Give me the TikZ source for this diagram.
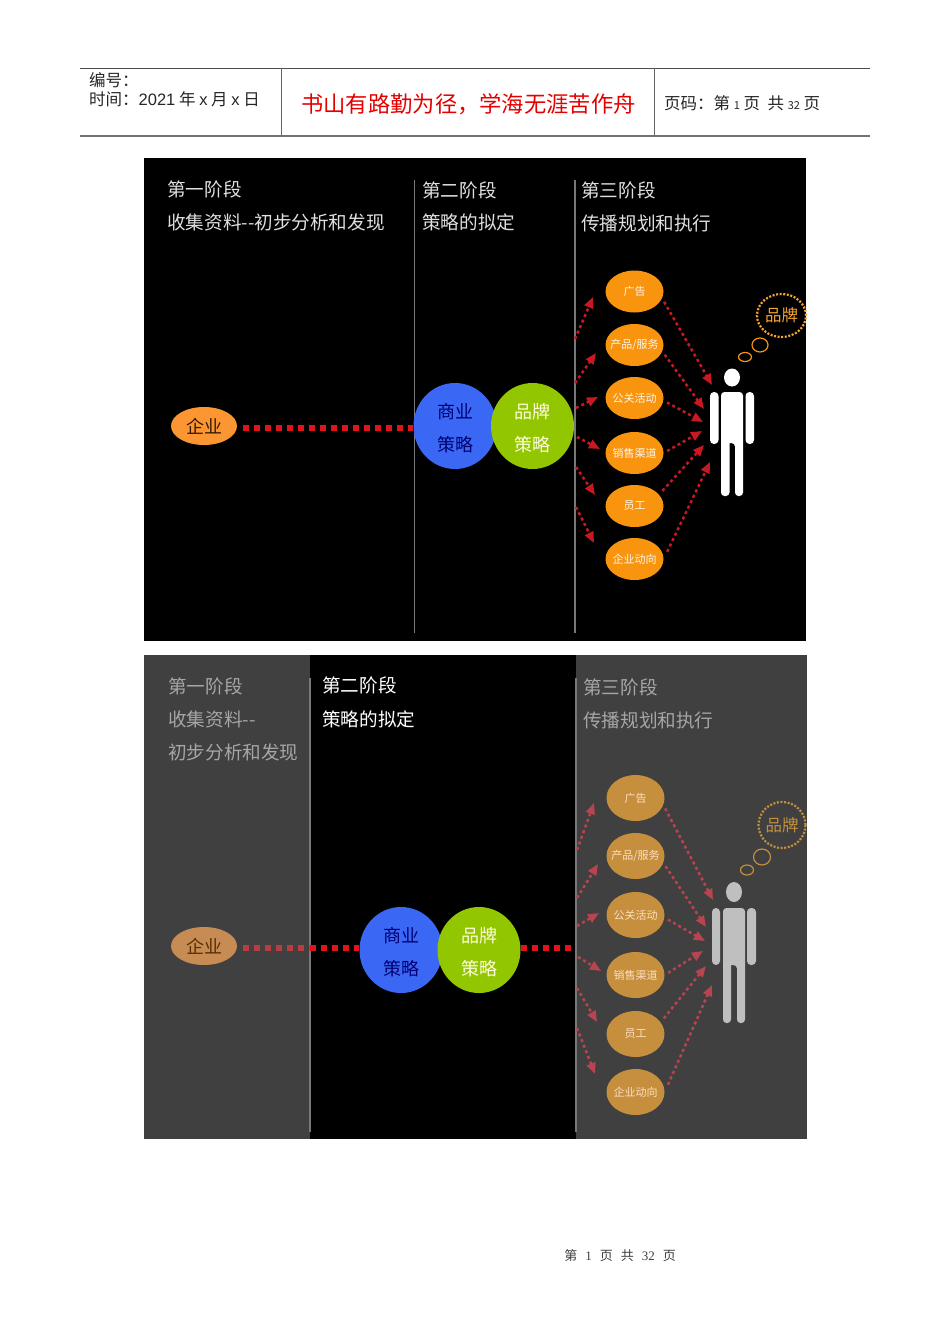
\documentclass[tikz,border=0pt]{standalone}
\usepackage{fontspec}
\setmainfont{Noto Sans CJK SC}
\newfontfamily\digitfont{Liberation Serif}
\newfontfamily\headfont{Liberation Sans}
\usepackage{xcolor}
\usetikzlibrary{shapes.geometric, arrows.meta, positioning, calc}
\definecolor{panelgrey}{RGB}{64, 64, 64}
\definecolor{rulegrey}{RGB}{120, 120, 120}
\definecolor{brightorange}{RGB}{248, 148, 14}
\definecolor{dimorange}{RGB}{197, 143, 62}
\definecolor{firmorange}{RGB}{252, 150, 50}
\definecolor{firmdim}{RGB}{198, 140, 84}
\definecolor{bizblue}{RGB}{58, 104, 245}
\definecolor{brandgreen}{RGB}{146, 198, 0}
\definecolor{dotred}{RGB}{225, 20, 25}
\definecolor{dotdim}{RGB}{184, 60, 64}
\definecolor{arrowred}{RGB}{200, 24, 34}
\definecolor{arrowdim}{RGB}{184, 68, 80}
\newcommand{\lowered}[1]{\raisebox{-2.5pt}[\height][\depth]{#1}}

\begin{document}
\begin{tikzpicture}[x=1pt, y=-1pt,
        hdrtext/.style={anchor=west, inner sep=0pt, font=\fontsize{16.5}{18}\selectfont, text=black!85},
        stagetext/.style={anchor=west, inner sep=0pt, font=\fontsize{18.6}{22}\selectfont, text=black!12},
        stagedim/.style={stagetext, text=black!35},
        channel/.style={ellipse, fill=brightorange, minimum width=58pt, minimum height=42pt, inner xsep=-6pt, inner ysep=0pt, text=white!92!orange, font=\fontsize{11}{13}\selectfont},
        channeldim/.style={channel, fill=dimorange, minimum height=46pt, text=white!75!orange},
        firm/.style={ellipse, fill=firmorange, minimum width=66pt, minimum height=38pt, inner sep=0pt, text=black!80!orange, font=\fontsize{18}{22}\selectfont},
        roundel/.style={ellipse, minimum width=83pt, minimum height=86pt, inner sep=0pt, align=center, font=\fontsize{18}{33}\selectfont},
        thought/.style={ellipse, draw, dash pattern=on 2pt off 1.6pt, line width=2.2pt, inner xsep=-3pt, inner ysep=0pt, font=\fontsize{16.5}{20}\selectfont},
        puff/.style={ellipse, draw, line width=1.2pt, inner sep=0pt},
        stagerule/.style={line width=1.6pt, color=rulegrey},
        dotline/.style={line width=5.5pt, color=dotred, dash pattern=on 6pt off 5pt},
        dotarrow/.style={-{Triangle[length=11pt, width=9pt]}, line width=2.5pt, color=arrowred, dash pattern=on 3pt off 3pt},
        dotarrowdim/.style={dotarrow, color=arrowdim}
    ]
    \useasboundingbox (0,0) rectangle (950,1344);
    \fill[white] (0,0) rectangle (950,1344);

    % page header
    \draw[line width=1pt, black!70] (80,68) -- (870,68);
    \draw[line width=1.2pt, black!55] (80,136) -- (870,136);
    \draw[line width=1pt, black!60] (281,68) -- (281,136);
    \draw[line width=1pt, black!60] (654,68) -- (654,136);
    \node[hdrtext] (hdrcode) at (89,80) {编号：};
    \node[hdrtext] (hdrdate) at (89,99) {时间：{\headfont 2021} 年 {\headfont x} 月 {\headfont x} 日};
    \node[anchor=west, inner sep=0pt, text=red!90!black, font=\fontsize{22.3}{26}\selectfont] (hdrmotto) at (301,104) {书山有路勤为径，学海无涯苦作舟};
    \node[hdrtext] (hdrpage) at (664,103) {页码：第 {\fontsize{11}{13}\selectfont 1} 页 \ 共 {\fontsize{11}{13}\selectfont 32} 页};

    % upper panel
    \fill[black] (144,158) rectangle (806,641);
    \draw[stagerule] (414.5,180) -- (414.5,633);
    \draw[stagerule] (575,180) -- (575,633);
    \node[stagetext] (a1) at (167,189) {第一阶段};
    \node[stagetext] (a2) at (167,222) {收集资料-{}-初步分析和发现};
    \node[stagetext] (a3) at (422,190) {第二阶段};
    \node[stagetext] (a4) at (422,222) {策略的拟定};
    \node[stagetext] (a5) at (581,190) {第三阶段};
    \node[stagetext] (a6) at (581,223) {传播规划和执行};

    \node[firm] (firm) at (204,426) {企业};
    \node[roundel, fill=bizblue, text=blue!45!black] (biz) at (455,426) {\lowered{商业}\\\lowered{策略}};
    \node[roundel, fill=brandgreen, text=yellow!15!white] (brand) at (532.5,426) {\lowered{品牌}\\\lowered{策略}};
    \draw[dotline, shorten <=6pt] ([yshift=-2pt]firm.east) -- ([yshift=-2pt]biz.west);

    \node[channel] (c1) at (634.5,291.5) {广告};
    \node[channel] (c2) at (634.5,345) {产品/服务};
    \node[channel] (c3) at (634.5,398) {公关活动};
    \node[channel] (c4) at (634.5,453) {销售渠道};
    \node[channel] (c5) at (634.5,506) {员工};
    \node[channel] (c6) at (634.5,559) {企业动向};

    \coordinate (l1) at (575,339);
    \coordinate (l2) at (575,383);
    \coordinate (l3) at (576,408);
    \coordinate (l4) at (577,437);
    \coordinate (l5) at (576,467);
    \coordinate (l6) at (576,507);
    \coordinate (m1) at (593,297);
    \coordinate (m2) at (596,353);
    \coordinate (m3) at (598,397);
    \coordinate (m4) at (600,449);
    \coordinate (m5) at (595,495);
    \coordinate (m6) at (594,543);
    \draw[dotarrow] (l1) -- (m1);
    \draw[dotarrow] (l2) -- (m2);
    \draw[dotarrow] (l3) -- (m3);
    \draw[dotarrow] (l4) -- (m4);
    \draw[dotarrow] (l5) -- (m5);
    \draw[dotarrow] (l6) -- (m6);

    \coordinate (r1) at (712,385);
    \coordinate (r2) at (704,409);
    \coordinate (r3) at (703,422);
    \coordinate (r4) at (702,431);
    \coordinate (r5) at (704,445);
    \coordinate (r6) at (710,462);
    \draw[dotarrow, shorten <=4pt] (c1.-14) -- (r1);
    \draw[dotarrow, shorten <=4pt] (c2.-13) -- (r2);
    \draw[dotarrow, shorten <=4pt] (c3.-5) -- (r3);
    \draw[dotarrow, shorten <=4pt] (c4.east) -- (r4);
    \draw[dotarrow, shorten <=5pt] (c5.25) -- (r5);
    \draw[dotarrow, shorten <=8pt] (c6.east) -- (r6);

    % person
    \fill[white] (732,377.5) ellipse (8 and 9);
    \fill[white, rounded corners=4pt] (710,392) rectangle (718.5,444);
    \fill[white, rounded corners=4pt] (745.5,392) rectangle (754,444);
    \fill[white, rounded corners=3.5pt] (721,392) -- (743,392) -- (743,496) -- (735,496) -- (735,443) [sharp corners] -- (729.5,443) [rounded corners=3.5pt] -- (729.5,496) -- (721,496) -- cycle;

    \node[thought, draw=brightorange!85!white, text=brightorange!85!white, minimum width=49pt, minimum height=43pt] (wish) at (781.5,315.5) {品牌};
    \node[puff, draw=brightorange, minimum width=16pt, minimum height=14pt] (puffa) at (760,345) {};
    \node[puff, draw=brightorange, minimum width=13pt, minimum height=9pt] (puffb) at (745,357) {};

    % lower panel
    \fill[black] (144,655) rectangle (807,1139);
    \fill[panelgrey] (144,655) rectangle (310,1139);
    \fill[panelgrey] (576,655) rectangle (807,1139);
    \draw[stagerule] (310,678) -- (310,1132);
    \draw[stagerule] (576,678) -- (576,1132);
    \node[stagedim] (b1) at (168,686) {第一阶段};
    \node[stagedim] (b2) at (168,719) {收集资料-{}-};
    \node[stagedim] (b3) at (168,752) {初步分析和发现};
    \node[stagetext, text=white] (b4) at (322,685) {第二阶段};
    \node[stagetext, text=white] (b5) at (322,719) {策略的拟定};
    \node[stagedim] (b6) at (583,687) {第三阶段};
    \node[stagedim] (b7) at (583,720) {传播规划和执行};

    \node[firm, fill=firmdim, text=black!65!orange] (firmb) at (204,946) {企业};
    \node[roundel, fill=bizblue, text=blue!45!black] (bizb) at (401,950) {\lowered{商业}\\\lowered{策略}};
    \node[roundel, fill=brandgreen, text=yellow!15!white] (brandb) at (479,950) {\lowered{品牌}\\\lowered{策略}};
    \coordinate (gapb) at (310,948);
    \coordinate (endb) at (572,948);
    \draw[dotline, color=dotdim, shorten <=6pt] ([yshift=-2pt]firmb.east) -- (gapb);
    \draw[dotline] (gapb) -- ([yshift=2pt]bizb.west);
    \draw[dotline] ([yshift=2pt]brandb.east) -- (endb);

    \node[channeldim] (d1) at (635.5,798) {广告};
    \node[channeldim] (d2) at (635.5,856) {产品/服务};
    \node[channeldim] (d3) at (635.5,915) {公关活动};
    \node[channeldim] (d4) at (635.5,975) {销售渠道};
    \node[channeldim] (d5) at (635.5,1034) {员工};
    \node[channeldim] (d6) at (635.5,1092) {企业动向};

    \coordinate (p1) at (577,850);
    \coordinate (p2) at (577,898);
    \coordinate (p3) at (577,926);
    \coordinate (p4) at (578,957);
    \coordinate (p5) at (577,988);
    \coordinate (p6) at (577,1028);
    \coordinate (q1) at (594,803);
    \coordinate (q2) at (598,864);
    \coordinate (q3) at (599,913);
    \coordinate (q4) at (601,971);
    \coordinate (q5) at (597,1022);
    \coordinate (q6) at (595,1074);
    \draw[dotarrowdim] (p1) -- (q1);
    \draw[dotarrowdim] (p2) -- (q2);
    \draw[dotarrowdim] (p3) -- (q3);
    \draw[dotarrowdim] (p4) -- (q4);
    \draw[dotarrowdim] (p5) -- (q5);
    \draw[dotarrowdim] (p6) -- (q6);

    \coordinate (s1) at (713,900);
    \coordinate (s2) at (706,927);
    \coordinate (s3) at (705,941);
    \coordinate (s4) at (703,951);
    \coordinate (s5) at (706,966);
    \coordinate (s6) at (712,985);
    \draw[dotarrowdim, shorten <=4pt] (d1.-14) -- (s1);
    \draw[dotarrowdim, shorten <=4pt] (d2.-14) -- (s2);
    \draw[dotarrowdim, shorten <=4pt] (d3.-5) -- (s3);
    \draw[dotarrowdim, shorten <=4pt] (d4.east) -- (s4);
    \draw[dotarrowdim, shorten <=5pt] (d5.25) -- (s5);
    \draw[dotarrowdim, shorten <=8pt] (d6.east) -- (s6);

    % person, dimmed
    \fill[black!25] (734,892) ellipse (8 and 10);
    \fill[black!25, rounded corners=4pt] (712,908) rectangle (720,965);
    \fill[black!25, rounded corners=4pt] (747,908) rectangle (756,965);
    \fill[black!25, rounded corners=3.5pt] (723,908) -- (745,908) -- (745,1023) -- (737,1023) -- (737,965) [sharp corners] -- (731,965) [rounded corners=3.5pt] -- (731,1023) -- (723,1023) -- cycle;

    \node[thought, draw=dimorange, text=dimorange, minimum width=47pt, minimum height=46pt] (wishb) at (782,825) {品牌};
    \node[puff, draw=dimorange, minimum width=17pt, minimum height=16pt] (puffc) at (762,857) {};
    \node[puff, draw=dimorange, minimum width=13pt, minimum height=10pt] (puffd) at (747,870) {};

    % page footer
    \node[inner sep=0pt, text=black!75, font=\fontsize{13}{16}\selectfont] (footer) at (620,1256) {第\hspace{8pt}{\digitfont 1}\hspace{8pt}页\hspace{8pt}共\hspace{8pt}{\digitfont 32}\hspace{8pt}页};
\end{tikzpicture}
\end{document}
